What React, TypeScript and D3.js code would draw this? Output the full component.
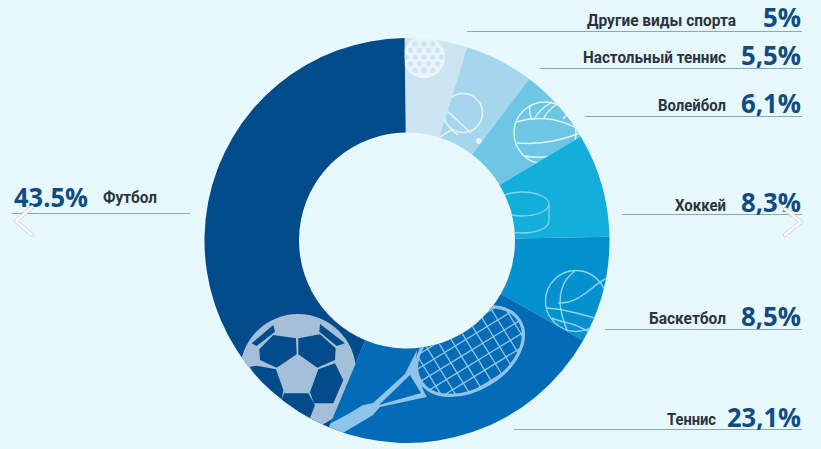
import React from 'react';
import * as d3 from 'd3';

// Slices run clockwise from 12 o'clock
const categories = ['Другие виды спорта', 'Настольный теннис', 'Волейбол', 'Хоккей', 'Баскетбол', 'Теннис', 'Футбол'];
const shares = [5, 5.5, 6.1, 8.3, 8.5, 23.1, 43.5];
const shareLabels = ['5%', '5,5%', '6,1%', '8,3%', '8,5%', '23,1%', '43.5%'];
const sliceColors = ['#cde5f0', '#a6d6ec', '#6ec6e5', '#14aedb', '#0391cd', '#016cb5', '#014b8b'];

const width = 821;
const height = 449;
const cx = 407;
const cy = 240.5;
const outerRadius = 202.5;
const innerRadius = 108;
const startAngle = -0.012; // the ring sits very slightly rotated in the picture

// Callout placement: rule y/x-range, label and value boxes
const callouts = [
  { y: 31.5, x1: 467, x2: 802, lx: 587, lw: 149, lb: 25.5, vx: 763, vw: 38, vb: 27 },
  { y: 68.5, x1: 540, x2: 802, lx: 583, lw: 143, lb: 63, vx: 741, vw: 60, vb: 64.5 },
  { y: 116.5, x1: 585, x2: 802, lx: 658, lw: 68, lb: 111, vx: 741, vw: 60, vb: 112.5 },
  { y: 214.5, x1: 622, x2: 802, lx: 675, lw: 51, lb: 211, vx: 741, vw: 60, vb: 212 },
  { y: 329.5, x1: 605, x2: 802, lx: 649, lw: 77, lb: 324, vx: 741, vw: 60, vb: 326 },
  { y: 429.5, x1: 514, x2: 802, lx: 667, lw: 49, lb: 425, vx: 727, vw: 74, vb: 426.5 },
  { y: 213.5, x1: 12, x2: 190, lx: 103, lw: 54, lb: 203, vx: 14, vw: 74, vb: 206.5 },
];

const pie = d3.pie<number>().sort(null).startAngle(startAngle).endAngle(startAngle + 2 * Math.PI);
const arc = d3.arc<d3.PieArcDatum<number>>().innerRadius(innerRadius).outerRadius(outerRadius);
const slices = pie(shares);

// Golf ball dimples, staggered rows
const dimples: [number, number][] = [];
for (let row = -3; row <= 3; row++) {
  for (let col = -3; col <= 3; col++) {
    const dx = (col + (row % 2 ? 0.5 : 0)) * 8.8;
    const dy = row * 6.6;
    if (Math.hypot(dx, dy) < 19) dimples.push([dx, dy]);
  }
}

// Racket strings in the head's own frame
const stringsLong = d3.range(-36, 37, 12);
const stringsCross = d3.range(-60, 61, 12.5);

const soccerPatches = [
  'M118,148 L160,105 L228,115 L230,163 L170,203 L120,180 Z',
  'M235,115 L300,103 L347,145 L345,180 L292,203 L235,163 Z',
  'M110,197 L168,208 L190,270 L185,297 L120,255 L90,200 Z',
  'M295,208 L345,190 L370,240 L340,310 L282,310 L270,277 Z',
  'M192,280 L265,280 L285,315 L270,355 L210,340 L185,298 Z',
  'M95,130 L160,75 L165,95 L110,138 Z',
  'M300,72 L375,130 L350,138 L298,95 Z',
];

const App = () => {
  return (
    <svg
      width={width}
      height={height}
      viewBox={`0 0 ${width} ${height}`}
      style={{ position: 'absolute', left: 0, top: 0, display: 'block', background: '#e7f8fe' }}
    >
      <defs>
        {slices.map((s, i) => (
          <clipPath id={`slice-${i}`} key={i}>
            <path d={arc(s) as string} transform={`translate(${cx},${cy})`} />
          </clipPath>
        ))}
        <clipPath id="racket-head">
          <ellipse cx={0} cy={0} rx={58} ry={38} />
        </clipPath>
      </defs>

      <g transform={`translate(${cx},${cy})`}>
        {slices.map((s, i) => (
          <path key={categories[i]} d={arc(s) as string} fill={sliceColors[i]} />
        ))}
      </g>

      {/* golf */}
      <g clipPath="url(#slice-0)">
        <g transform="translate(424,57)">
          <circle r={21} fill="#e8f5fb" />
          {dimples.map(([dx, dy], i) => (
            <circle key={i} cx={dx} cy={dy} r={2.6} fill="#cde5f0" />
          ))}
        </g>
      </g>

      {/* table tennis */}
      <g clipPath="url(#slice-1)" fill="none" stroke="#e6f4fa" strokeWidth={1.5}>
        <circle cx={463} cy={113} r={19.5} />
        <path d="M446,110 L471,133" />
        <path d="M442,123 L446,119 M440,137 L451,130 L458,135" />
      </g>
      <g clipPath="url(#slice-1)">
        <circle cx={479} cy={141} r={3} fill="#e6f4fa" />
      </g>

      {/* volleyball */}
      <g clipPath="url(#slice-2)" fill="none" stroke="#e0f3fa" strokeWidth={1.4}>
        <circle cx={545} cy={133} r={31} />
        <path d="M516,122 C535,117 555,116 578,129" />
        <path d="M517,143 C540,145 560,141 580,133" />
        <path d="M524,156 C545,159 562,156 572,148" />
        <path d="M530,106 C529,112 530,116 532,120" />
        <path d="M552,102 C542,108 536,114 534,120" />
        <path d="M557,104 C550,109 546,113 544,118" />
        <path d="M560,104 C568,108 570,112 563,119" />
      </g>

      {/* hockey */}
      <g clipPath="url(#slice-3)" fill="none" stroke="#7fd4ee" strokeWidth={1.3}>
        <ellipse cx={522} cy={204} rx={27} ry={12} />
        <path d="M549,204 V221 C549,228 537,233 522,233 C514,233 508,232 503,230" />
      </g>

      {/* basketball */}
      <g clipPath="url(#slice-4)" fill="none" stroke="#8fd3f0" strokeWidth={1.4}>
        <circle cx={576} cy={301} r={30.5} />
        <path d="M575,271 C562,280 557,296 562,315 C564,322 566,328 568,333" />
        <path d="M547,308 C565,309 585,315 602,320" />
        <path d="M558,303 C580,304 592,285 607,278" />
        <path d="M552,318 C560,322 566,322 575,325 C580,327 585,330 590,332" />
      </g>

      {/* tennis */}
      <g clipPath="url(#slice-5)">
        <path
          fillRule="evenodd"
          d="M322,428 L350,413 L363,405 L373,403 L405,374 L417,350 L416,360 L419,378 L424,392 L427,397 L380,407 L373,415 L343,433 Z M379,405 L410,375 L421,393 Z"
          fill="#8fc4ea"
        />
        <g transform="translate(470,351) rotate(-31.5)">
          <g clipPath="url(#racket-head)" stroke="#8fc4ea" strokeWidth={1.3}>
            {stringsLong.map(v => (
              <line key={`l${v}`} x1={-60} x2={60} y1={v} y2={v} />
            ))}
            {stringsCross.map(v => (
              <line key={`c${v}`} x1={v} x2={v} y1={-40} y2={40} />
            ))}
          </g>
          <ellipse rx={58} ry={38} fill="none" stroke="#8fc4ea" strokeWidth={3.2} />
        </g>
      </g>

      {/* football */}
      <g clipPath="url(#slice-6)">
        <circle cx={298} cy={372} r={58} fill="#a4c0d9" />
        <g transform="translate(220,300) scale(0.3333)">
          {soccerPatches.map((d, i) => (
            <path key={i} d={d} fill="#014b8b" />
          ))}
        </g>
      </g>

      {/* callouts */}
      {categories.map((name, i) => {
        const c = callouts[i];
        return (
          <g key={name}>
            <line x1={c.x1} x2={c.x2} y1={c.y} y2={c.y} stroke="#86a9bd" strokeWidth={1} />
            <text
              x={c.lx}
              y={c.lb}
              textLength={c.lw}
              lengthAdjust="spacingAndGlyphs"
              fontFamily="Roboto, sans-serif"
              fontWeight={700}
              fontSize={16}
              fill="#2a3340"
            >
              {name}
            </text>
            <text
              x={c.vx}
              y={c.vb}
              textLength={c.vw}
              lengthAdjust="spacingAndGlyphs"
              fontFamily="'Open Sans', sans-serif"
              fontWeight={700}
              fontSize={27}
              fill="#0f4c81"
            >
              {shareLabels[i]}
            </text>
          </g>
        );
      })}

      {/* carousel arrows */}
      {['M32,207 L16,221 L32,235', 'M785,209 L801,222 L785,235'].map(d => (
        <g key={d} fill="none" strokeLinecap="round" strokeLinejoin="round">
          <path d={d} stroke="#c9ced2" strokeWidth={4} />
          <path d={d} stroke="#ffffff" strokeWidth={2.4} />
        </g>
      ))}
    </svg>
  );
};

export default App;
